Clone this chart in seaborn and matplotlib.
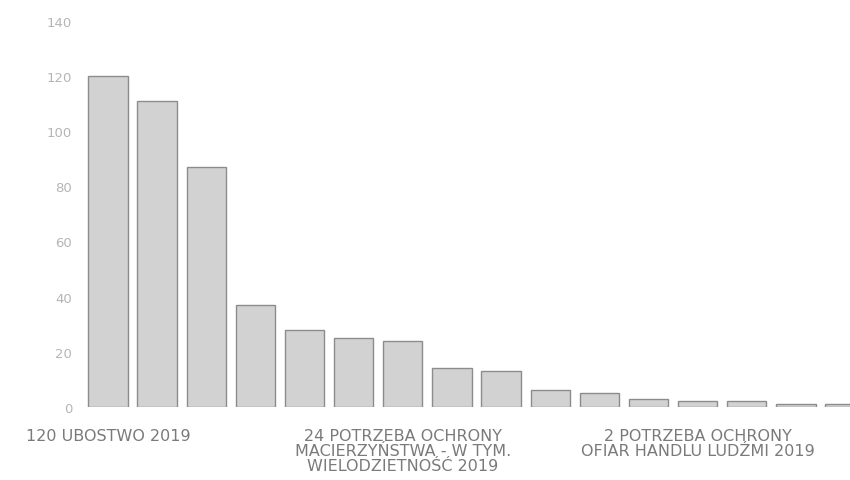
import numpy as np
import pandas as pd
import seaborn as sns
import matplotlib.pyplot as plt

# bar values (sorted descending)
values = [120, 111, 87, 37, 28, 25, 24, 14, 13, 6, 5, 3, 2, 2, 1, 1]
positions = list(range(len(values)))

# only every 6th category is labelled on the axis
label_positions = [0, 6, 12]
tick_labels = [
    '120 UBOSTWO 2019',
    '24 POTRZEBA OCHRONY\nMACIERZYŃSTWA - W TYM.\nWIELODZIETNOŚĆ 2019',
    '2 POTRZEBA OCHRONY\nOFIAR HANDLU LUDŹMI 2019',
]
y_ticks = [0, 20, 40, 60, 80, 100, 120, 140]

df = pd.DataFrame({'pos': positions, 'value': values})

sns.set_style('white')
plt.rcParams['font.family'] = ['DejaVu Sans']

fig = plt.figure(figsize=(8.5, 4.81), dpi=100)
ax = fig.add_axes([0.098, 0.152, 0.902, 0.803])

sns.barplot(data=df, x='pos', y='value', color='#d2d2d2', width=0.8,
            edgecolor='#8c8c8c', linewidth=1.0, saturation=1, ax=ax)

ax.set_ylim(0, 140)
ax.set_xlim(-0.5, 15.1)
ax.set_yticks(y_ticks)
ax.set_yticklabels([str(t) for t in y_ticks], color='#b5b5b5', fontsize=9.5)
ax.set_xticks(label_positions)
ax.set_xticklabels(tick_labels, color='#7a7a7a', fontsize=11.5, linespacing=1.02)
ax.tick_params(axis='y', length=0, pad=8)
ax.tick_params(axis='x', length=0, pad=15)
ax.set_xlabel('')
ax.set_ylabel('')
sns.despine(left=True, bottom=True)

fig.savefig('out.png', dpi=100)
